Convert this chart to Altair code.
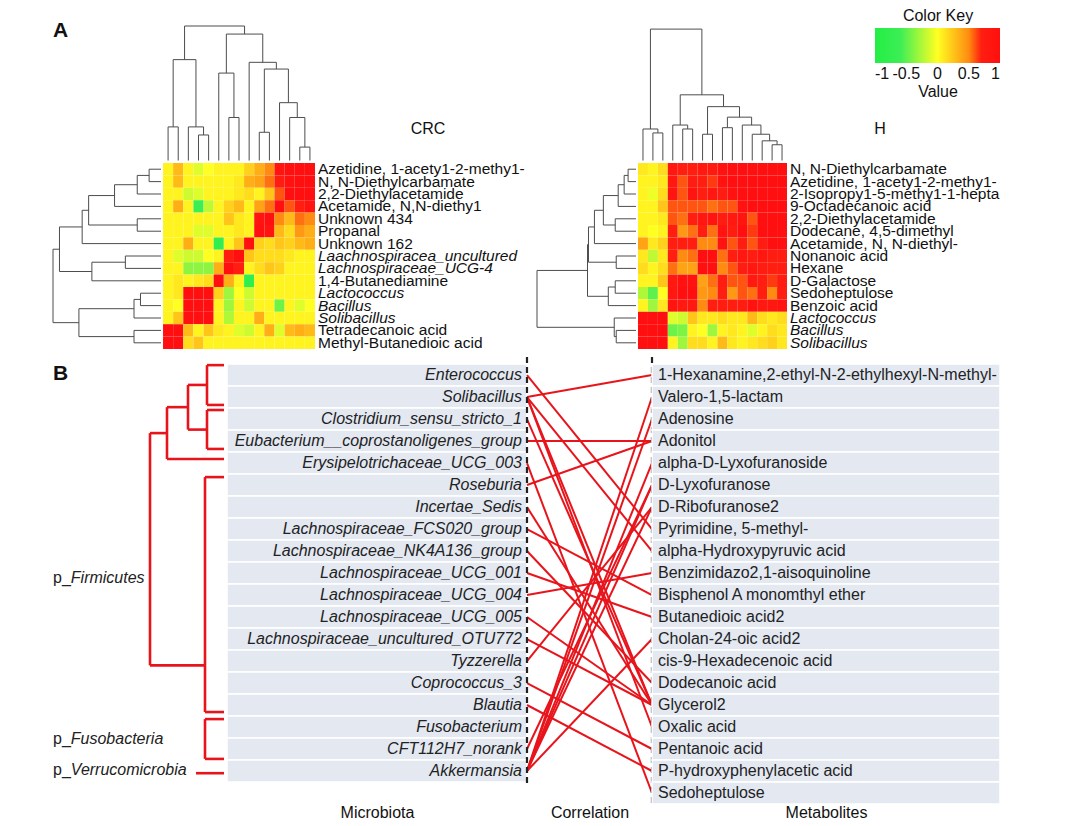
import altair as alt
import pandas as pd

FONT = "Liberation Sans"
RED = "#e8141c"

# ---------------- Panel A data ----------------
crc_rows = ["Azetidine, 1-acety1-2-methy1-", "N, N-Diethylcarbamate", "2,2-Diethylacetamide",
            "Acetamide, N,N-diethy1", "Unknown 434", "Propanal", "Unknown 162",
            "Laachnospiracea_uncultured", "Lachnospiraceae_UCG-4", "1,4-Butanediamine",
            "Lactococcus", "Bacillus", "Solibacillus", "Tetradecanoic acid", "Methyl-Butanedioic acid"]
crc_italic = [7, 8, 10, 11, 12]
crc_matrix = [
    [0.05, 0.3, 0.05, -0.1, 0, 0.05, 0.05, 0.05, 0.2, 0.35, 0.5, 0.9, 1, 1, 1],
    [0.05, 0.3, 0.05, 0.05, 0.05, 0.05, 0.05, 0.1, 0.35, 0.4, 0.55, 0.75, 0.95, 1, 1],
    [0.05, 0.05, -0.15, -0.1, 0.05, 0.05, 0.05, 0.1, 0.15, 0.05, 0.25, 0.6, 1, 1, 1],
    [0.05, 0.35, 0.05, -0.6, -0.2, 0.05, 0.2, 0.3, 0.05, 0.4, 0.55, 1, 0.6, 0.7, 0.9],
    [0.05, 0.05, 0.05, 0.05, 0.05, 0.05, 0.25, 0.1, 0.05, 0.9, 1, 0.5, 0.3, 0.55, 0.5],
    [0.05, 0.05, 0.05, -0.1, -0.1, 0.05, 0.05, 0.1, 0.05, 1, 0.9, 0.3, 0.15, 0.45, 0.35],
    [0.05, 0.05, 0.35, 0.05, 0.05, -0.8, 0.05, 0.25, 1, 0.2, 0.15, 0.25, 0.2, 0.3, 0.35],
    [0.05, -0.1, -0.15, -0.15, 0, 0.05, 0.7, 1, 0.25, 0.15, 0.15, 0.15, 0.1, 0.05, 0.05],
    [0.05, 0.05, -0.35, -0.35, -0.35, 0.35, 1, 0.7, 0.05, 0.15, 0.25, 0.2, 0.05, 0.05, 0.05],
    [0.05, 0.1, 0.05, 0.1, 0.15, 1, 0.35, 0.05, -0.8, 0.05, 0.05, 0.05, 0.05, 0.05, 0.05],
    [0.05, 0.1, 1, 1, 1, 0.2, -0.3, 0, -0.15, 0.05, 0.05, 0.05, 0.05, 0.05, 0.05],
    [0.05, 0, 1, 1, 1, 0.05, -0.3, 0.05, -0.15, 0.05, 0.05, -0.45, 0.05, -0.1, 0],
    [0.05, 0.25, 1, 1, 1, 0.05, -0.25, 0.05, 0.05, 0.35, 0.05, 0.05, 0.05, 0.05, 0.05],
    [1, 1, 0.3, 0.05, 0.25, 0.1, 0.05, -0.1, -0.15, 0.05, 0.35, -0.1, 0.3, 0.35, 0.3],
    [1, 1, 0.15, 0.25, 0.05, 0.05, 0.05, 0.05, 0.05, 0.05, 0.05, 0.05, 0.05, 0.05, 0.05],
]
# dendrograms: (left, right, height) with height normalised to the root
crc_col_tree = (((0, 1, 0.25), (2, (3, 4, 0.19), 0.25), 0.75),
                ((5, (6, 7, 0.32), 0.65),
                 (8, ((9, 10, 0.21), (11, (12, (13, 14, 0.10), 0.32), 0.43), 0.68), 0.73), 0.94), 1.0)
crc_row_tree = ((((((((0, 1, 0.11), 2, 0.22), 3, 0.43), (4, 5, 0.22), 0.67), 6, 0.73),
                  ((7, 8, 0.33), 9, 0.64), 0.94)),
                (((10, 11, 0.19), 12, 0.25), (13, 14, 0.25), 0.76), 1.0)

h_rows = ["N, N-Diethylcarbamate", "Azetidine, 1-acety1-2-methy1-", "2-Isopropy1-5-methy1-1-hepta",
          "9-Octadecanoic acid", "2,2-Diethylacetamide", "Dodecane, 4,5-dimethyl",
          "Acetamide, N, N-diethyl-", "Nonanoic acid", "Hexane", "D-Galactose", "Sedoheptulose",
          "Benzoic acid", "Lactococcus", "Bacillus", "Solibacillus"]
h_italic = [12, 13, 14]
h_matrix = [
    [0.1, 0.05, 0.15, 0.85, 0.7, 0.7, 0.8, 0.8, 0.95, 1, 1, 1, 1, 1, 1],
    [0.05, 0.05, 0.1, 0.85, 0.6, 0.75, 0.7, 0.65, 0.95, 1, 1, 1, 1, 1, 1],
    [0.05, -0.05, 0.15, 0.9, 0.6, 0.9, 0.7, 0.85, 0.75, 0.95, 1, 1, 1, 1, 1],
    [0.05, 0.05, 0.25, 0.6, 0.6, 0.6, 0.6, 0.55, 0.6, 0.6, 0.95, 1, 1, 1, 1],
    [0.05, 0.05, 0.1, 0.6, 0.55, 0.7, 0.85, 0.9, 0.75, 0.8, 0.9, 0.6, 1, 1, 1],
    [0.05, 0, 0.05, 0.7, 0.45, 0.55, 0.7, 0.55, 0.9, 0.75, 1, 0.65, 1, 1, 1],
    [0.4, 0.1, 0.2, 0.7, 0.7, 0.7, 0.5, 0.5, 0.95, 0.6, 0.75, 0.6, 0.75, 1, 1],
    [0.1, -0.2, 0.1, 0.7, 0.5, 0.55, 1, 1, 0.55, 0.7, 0.85, 0.75, 0.85, 0.75, 0.75],
    [0.15, 0.05, 0.15, 0.55, 0.4, 0.4, 1, 1, 0.5, 0.6, 0.75, 0.85, 0.75, 0.7, 0.75],
    [0.05, 0.05, 0.25, 0.8, 0.95, 0.95, 0.4, 0.55, 0.75, 0.6, 0.6, 0.8, 0.7, 0.65, 0.75],
    [-0.25, -0.5, 0, 0.85, 1, 1, 0.45, 0.5, 0.7, 0.45, 0.6, 0.55, 0.7, 0.5, 0.7],
    [0.05, -0.3, 0.1, 0.9, 0.8, 0.8, 0.5, 0.7, 0.75, 0.7, 0.75, 0.95, 0.8, 0.85, 0.9],
    [1, 1, 1, -0.1, -0.15, 0.25, 0.1, 0.1, 0.15, 0.1, 0.1, 0.3, 0.15, 0.1, 0.15],
    [1, 1, 1, -0.45, -0.4, 0.05, 0, -0.3, 0.05, 0.1, 0.05, -0.1, 0.05, 0.15, 0.1],
    [1, 1, 1, 0.05, -0.3, 0.15, 0.15, 0.05, 0.3, 0.1, 0.05, 0.1, 0.15, 0.2, 0.1],
]
h_col_tree = ((0, (1, 2, 0.21), 0.24),
              ((3, (4, 5, 0.24), 0.27),
               ((6, 7, 0.20), ((8, 9, 0.25), (10, (11, (12, (13, 14, 0.12), 0.15), 0.2), 0.27), 0.33), 0.41),
               0.50), 1.0)
h_row_tree = ((((((((0, 1, 0.08), 2, 0.12), 3, 0.18), (4, 5, 0.21), 0.33), 6, 0.42), (7, 8, 0.20), 0.48),
               ((9, 10, 0.21), 11, 0.28), 0.49),
              (12, (13, 14, 0.20), 0.22), 1.0)

key_values = [-1, -0.5, 0, 0.5, 1]

# ---------------- Panel B data ----------------
microbes = ["Enterococcus", "Solibacillus", "Clostridium_sensu_stricto_1",
            "Eubacterium__coprostanoligenes_group", "Erysipelotrichaceae_UCG_003", "Roseburia",
            "Incertae_Sedis", "Lachnospiraceae_FCS020_group", "Lachnospiraceae_NK4A136_group",
            "Lachnospiraceae_UCG_001", "Lachnospiraceae_UCG_004", "Lachnospiraceae_UCG_005",
            "Lachnospiraceae_uncultured_OTU772", "Tyzzerella", "Coprococcus_3", "Blautia",
            "Fusobacterium", "CFT112H7_norank", "Akkermansia"]
metabolites = ["1-Hexanamine,2-ethyl-N-2-ethylhexyl-N-methyl-", "Valero-1,5-lactam", "Adenosine",
               "Adonitol", "alpha-D-Lyxofuranoside", "D-Lyxofuranose", "D-Ribofuranose2",
               "Pyrimidine, 5-methyl-", "alpha-Hydroxypyruvic acid", "Benzimidazo2,1-aisoquinoline",
               "Bisphenol A monomthyl ether", "Butanedioic acid2", "Cholan-24-oic acid2",
               "cis-9-Hexadecenoic acid", "Dodecanoic acid", "Glycerol2", "Oxalic acid",
               "Pentanoic acid", "P-hydroxyphenylacetic acid", "Sedoheptulose"]
link_microbe = [0, 1, 1, 1, 1, 2, 3, 4, 5, 6, 7, 8, 9, 10, 11, 12, 13, 14, 15, 17, 18, 18, 18, 18, 18, 18]
link_metab   = [7, 0, 8, 15, 16, 15, 3, 19, 3, 15, 10, 14, 11, 9, 15, 15, 6, 17, 18, 5, 1, 2, 4, 5, 6, 12]

# taxonomy tree: name, height, row position, parent
tree_nodes = [
    ("Firm", 77, 7.9, None), ("N4", 60, 2.64, "Firm"), ("N3", 39, 1.46, "N4"),
    ("N1", 20, 0.45, "N3"), ("N2", 20, 2.48, "N3"), ("NL", 22, 13.2, "Firm"),
    ("NF", 22, 16.55, None), ("NV", 31, 18.1, None),
    ("Enterococcus", 3, -0.45, "N1"), ("Solibacillus", 3, 1.36, "N1"),
    ("Clostridium", 3, 1.59, "N2"), ("Eubacterium", 3, 3.36, "N2"),
    ("Erysipelotrichaceae", 3, 3.82, "N4"), ("Lach_top", 3, 4.64, "NL"),
    ("Lach_bottom", 3, 15.32, "NL"), ("Fuso_top", 3, 15.64, "NF"),
    ("Fuso_bottom", 3, 17.45, "NF"), ("Akkermansia", 3, 18.1, "NV"),
]
phylum_names = ["Firmicutes", "Fusobacteria", "Verrucomicrobia"]
phylum_rows = [9.23, 16.55, 17.95]

# ---------------- helpers ----------------
color_scale = alt.Scale(domain=[-1, -0.6, 0, 0.5, 0.7, 1],
                        range=["#22ee44", "#3cee55", "#ffff22", "#ff8c10", "#ff1e10", "#ff0f0f"],
                        interpolate="rgb")
HFS = 15.5   # heatmap label size
BFS = 16     # panel B text size


def dendro_df(tree, orient, gap, length):
    segs = []

    def walk(node):
        if isinstance(node, int):
            return node + 0.5, 0.0
        a, b, h = node
        pa, ha = walk(a)
        pb, hb = walk(b)
        segs.append(("stem", pa, ha, h))
        segs.append(("stem", pb, hb, h))
        segs.append(("bar", pa, pb, h))
        return (pa + pb) / 2, h

    walk(tree)

    def d(hh):
        return -(gap + hh * length)

    rows = []
    for kind, a, b, c in segs:
        if kind == "stem":
            if orient == "col":
                rows.append(dict(x=a, x2=a, y=d(b), y2=d(c)))
            else:
                rows.append(dict(x=d(b), x2=d(c), y=a, y2=a))
        else:
            if orient == "col":
                rows.append(dict(x=a, x2=b, y=d(c), y2=d(c)))
            else:
                rows.append(dict(x=d(c), x2=d(c), y=a, y2=b))
    return pd.DataFrame(rows)


def heat_block(rows, italic, matrix, ctree, rtree, W, H, rd, cd, cdlen, title, tpos, legend, extra=None):
    n = len(rows)
    cells = pd.DataFrame([dict(c=c, c2=c + 1, r=r, r2=r + 1, v=matrix[r][c])
                          for r in range(n) for c in range(n)])
    xs = alt.Scale(domain=[-rd, n], nice=False, zero=False)
    ys = alt.Scale(domain=[-cd, n], nice=False, zero=False, reverse=True)
    heat = alt.Chart(cells).mark_rect().encode(
        x=alt.X("c:Q", scale=xs, axis=None), x2="c2:Q",
        y=alt.Y("r:Q", scale=ys, axis=None), y2="r2:Q",
        color=alt.Color("v:Q", scale=color_scale, legend=legend),
    )
    gap = 0.2
    dc = dendro_df(ctree, "col", gap, cdlen - gap)
    dr = dendro_df(rtree, "row", gap, rd - gap)
    dend = alt.Chart(pd.concat([dc, dr])).mark_rule(color="#4d4d4d", strokeWidth=1).encode(
        x=alt.X("x:Q", scale=xs, axis=None), x2="x2:Q",
        y=alt.Y("y:Q", scale=ys, axis=None), y2="y2:Q")
    labs = pd.DataFrame(dict(label=rows, rc=[i + 0.5 for i in range(n)], xr=[n] * n,
                             it=[i in italic for i in range(n)]))
    base = alt.Chart(labs).encode(x=alt.X("xr:Q", scale=xs, axis=None),
                                  y=alt.Y("rc:Q", scale=ys, axis=None), text="label:N")
    lab_n = base.transform_filter("!datum.it").mark_text(
        align="left", baseline="middle", dx=3, fontSize=HFS, font=FONT, color="#111")
    lab_i = base.transform_filter("datum.it").mark_text(
        align="left", baseline="middle", dx=3, fontSize=HFS, font=FONT, fontStyle="italic", color="#111")
    ttl = alt.Chart(pd.DataFrame({"t": [title]})).mark_text(
        fontSize=BFS, font=FONT, baseline="middle", align="center", color="#111").encode(
        text="t:N", x=alt.value(tpos[0]), y=alt.value(tpos[1]))
    layers = [heat, dend, lab_n, lab_i, ttl]
    if extra is not None:
        layers += extra
    return alt.layer(*layers).properties(width=W, height=H)


# panel A label
a_label = alt.Chart(pd.DataFrame({"t": ["A"]})).mark_text(
    fontSize=21, fontWeight="bold", font=FONT, align="left", baseline="alphabetic", color="#111").encode(
    text="t:N", x=alt.value(0), y=alt.value(11))
value_label = alt.Chart(pd.DataFrame({"t": ["Value"]})).mark_text(
    fontSize=BFS, font=FONT, align="center", baseline="middle", color="#111").encode(
    text="t:N", x=alt.value(401), y=alt.value(66))

crc = heat_block(crc_rows, crc_italic, crc_matrix, crc_col_tree, crc_row_tree,
                 W=262, H=323, rd=10.86, cd=11.05, cdlen=11.05, title="CRC", tpos=(375, 103),
                 legend=None, extra=[a_label])

key_legend = alt.Legend(orient="none", legendX=338, legendY=-18, direction="horizontal",
                        type="gradient",
                        title="Color Key", titleAnchor="middle", titleFontSize=BFS,
                        titleFontWeight="normal", titleFont=FONT, titleColor="#111", titlePadding=4,
                        gradientLength=125, gradientThickness=35, gradientStrokeWidth=0,
                        labelFontSize=BFS, labelFont=FONT, labelColor="#111", labelOffset=3,
                        labelAlign="center",
                        values=key_values,
                        labelExpr="datum.value < 0 ? '-' + format(-datum.value, '~g') : format(datum.value, '~g')")
hblock = heat_block(h_rows, h_italic, h_matrix, h_col_tree, h_row_tree,
                    W=250, H=323, rd=10.17, cd=11.05, cdlen=10.8, title="H", tpos=(343, 103),
                    legend=key_legend, extra=[value_label])

top = alt.hconcat(crc, hblock, spacing=222, bounds="flush").resolve_scale(color="independent")

# ---------------- Panel B ----------------
ys_b = alt.Scale(domain=[-0.82, 19.5], nice=False, zero=False, reverse=True)
xaxis = dict(labels=False, ticks=False, domain=False, grid=False, titleFontSize=BFS,
             titleFontWeight="normal", titleFont=FONT, titleColor="#111", titlePadding=0)

node_map = {n[0]: n for n in tree_nodes}
segs = []
children = {}
for name, h, y, parent in tree_nodes:
    if parent is not None:
        ph = node_map[parent][1]
        segs.append(dict(x=ph, x2=h, y=y, y2=y))
        children.setdefault(parent, []).append(y)
for name, h, y, parent in tree_nodes:
    if name in children:
        ys_c = children[name]
        segs.append(dict(x=h, x2=h, y=min(ys_c), y2=max(ys_c)))
tree_df = pd.DataFrame(segs)
xs_tree = alt.Scale(domain=[0, 174], reverse=True, nice=False, zero=False)
tree = alt.Chart(tree_df).mark_rule(color=RED, strokeWidth=2.6).encode(
    x=alt.X("x:Q", scale=xs_tree, axis=None), x2="x2:Q",
    y=alt.Y("y:Q", scale=ys_b, axis=None), y2="y2:Q")
ph_df = pd.DataFrame(dict(name=phylum_names, row=phylum_rows, pre=["p_"] * 3, hx=[174] * 3))
ph_base = alt.Chart(ph_df).encode(x=alt.X("hx:Q", scale=xs_tree, axis=None),
                                  y=alt.Y("row:Q", scale=ys_b, axis=None))
ph_pre = ph_base.mark_text(align="left", baseline="middle", fontSize=BFS, font=FONT,
                           color="#222").encode(text="pre:N")
ph_name = ph_base.mark_text(align="left", baseline="middle", fontSize=BFS, font=FONT,
                            fontStyle="italic", dx=17.8, color="#222").encode(text="name:N")
b_label = alt.Chart(pd.DataFrame({"t": ["B"]})).mark_text(
    fontSize=21, fontWeight="bold", font=FONT, align="left", baseline="alphabetic", color="#111").encode(
    text="t:N", x=alt.value(0), y=alt.value(23))
tree_chart = alt.layer(tree, ph_pre, ph_name, b_label).properties(width=174, height=447)

BOX = "#e3e8f1"
mic_df = pd.DataFrame(dict(label=microbes, row=list(range(len(microbes)))))
mic_df["r0"] = mic_df["row"] - 0.5
mic_df["r1"] = mic_df["row"] + 0.5
xs_box = alt.Scale(domain=[0, 1], nice=False, zero=False)
mic_box = alt.Chart(mic_df).mark_rect(fill=BOX, stroke="white", strokeWidth=1.5).encode(
    x=alt.X(datum=0, scale=xs_box, axis=alt.Axis(title="Microbiota", **xaxis)), x2=alt.X2(datum=1),
    y=alt.Y("r0:Q", scale=ys_b, axis=None), y2="r1:Q")
mic_txt = alt.Chart(mic_df).mark_text(align="right", baseline="middle", dx=-5, fontSize=BFS, font=FONT,
                                      fontStyle="italic", color="#222").encode(
    x=alt.X(datum=1, scale=xs_box), y=alt.Y("row:Q", scale=ys_b, axis=None), text="label:N")
mic_chart = alt.layer(mic_box, mic_txt).properties(width=300, height=447)

met_df = pd.DataFrame(dict(label=metabolites, row=list(range(len(metabolites)))))
met_df["r0"] = met_df["row"] - 0.5
met_df["r1"] = met_df["row"] + 0.5
met_box = alt.Chart(met_df).mark_rect(fill=BOX, stroke="white", strokeWidth=1.5).encode(
    x=alt.X(datum=0, scale=xs_box, axis=alt.Axis(title="Metabolites", **xaxis)), x2=alt.X2(datum=1),
    y=alt.Y("r0:Q", scale=ys_b, axis=None), y2="r1:Q")
met_txt = alt.Chart(met_df).mark_text(align="left", baseline="middle", dx=6, fontSize=BFS, font=FONT,
                                      color="#222").encode(
    x=alt.X(datum=0, scale=xs_box), y=alt.Y("row:Q", scale=ys_b, axis=None), text="label:N")
met_chart = alt.layer(met_box, met_txt).properties(width=348, height=447)

links = pd.DataFrame(dict(mic=link_microbe, met=link_metab))
link_rules = alt.Chart(links).mark_rule(color=RED, strokeWidth=2).encode(
    x=alt.X(datum=0, scale=xs_box, axis=alt.Axis(title="Correlation", **xaxis)), x2=alt.X2(datum=1),
    y=alt.Y("mic:Q", scale=ys_b, axis=None), y2="met:Q")
dash_df = pd.DataFrame(dict(side=[0, 1], top=[-0.82, -0.82], bottom=[len(microbes) - 0.45, 19.5]))
dashes = alt.Chart(dash_df).mark_rule(color="#222", strokeWidth=2.2, strokeDash=[6, 4]).encode(
    x=alt.X("side:Q", scale=xs_box), y=alt.Y("top:Q", scale=ys_b, axis=None), y2="bottom:Q")
mid_chart = alt.layer(link_rules, dashes).properties(width=125, height=447)

bottom = alt.hconcat(tree_chart, mic_chart, mid_chart, met_chart, spacing=0, bounds="flush")

chart = alt.vconcat(top, bottom, spacing=3).properties(
    padding={"left": 44, "top": 0, "right": 5, "bottom": 5}, background="white"
).configure_view(strokeWidth=0, stroke="transparent")

chart.save("out.html", embed_options={"renderer": "svg", "actions": False})
